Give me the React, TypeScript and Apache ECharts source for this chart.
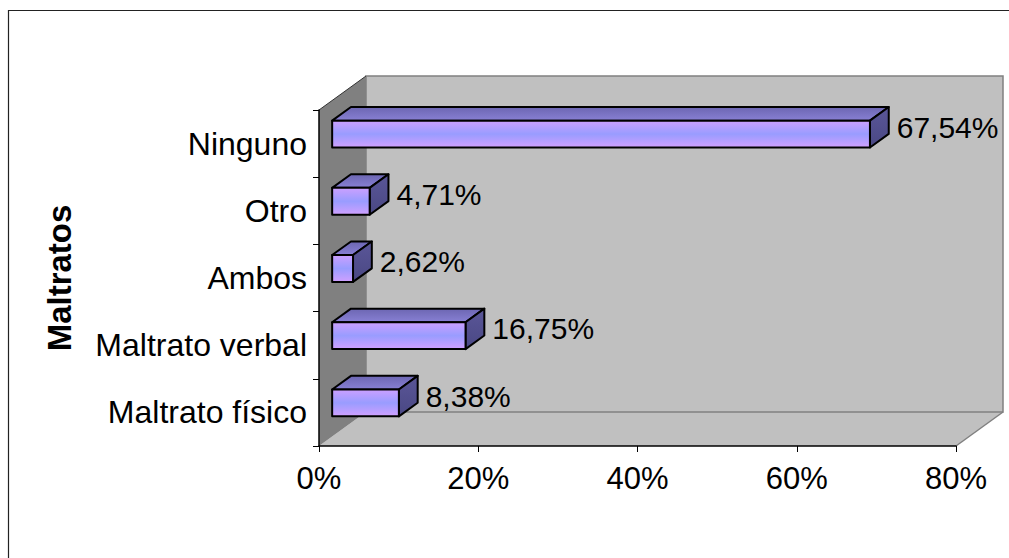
import React, { useEffect, useRef } from 'react';
import * as echarts from 'echarts';

const categories = ['Maltrato físico', 'Maltrato verbal', 'Ambos', 'Otro', 'Ninguno'];
const values = [8.38, 16.75, 2.62, 4.71, 67.54];
const xTickMin = 0;
const xTickMax = 80;
const xTickStep = 20;
const axisTitle = 'Maltratos';

const FONT = '"Liberation Sans", Arial, Helvetica, sans-serif';
const DEPTH_X = 47;
const DEPTH_Y = -34;
const BAR_FRONT = 0.28;
const BAR_DEPTH = 0.4;
const BAR_WIDTH = 0.4;

const fmt = (v: number) => v.toFixed(2).replace('.', ',') + '%';

export default function App() {
  const ref = useRef<HTMLDivElement>(null);
  useEffect(() => {
    const chart = echarts.init(ref.current!, null, { renderer: 'svg' });

    const wallsRender = (params: any, api: any) => {
      const cs = params.coordSys;
      const x = cs.x, y = cs.y, w = cs.width, h = cs.height;
      const dx = DEPTH_X, dy = DEPTH_Y;
      return {
        type: 'group',
        children: [
          {
            type: 'polygon',
            shape: { points: [[x, y + h], [x + w, y + h], [x + w + dx, y + h + dy], [x + dx, y + h + dy]] },
            style: { fill: '#C0C0C0', stroke: 'none' },
          },
          {
            type: 'rect',
            shape: { x: x + dx, y: y + dy, width: w, height: h },
            style: { fill: '#C0C0C0', stroke: '#808080', lineWidth: 1.5 },
          },
          {
            type: 'line',
            shape: { x1: x + w, y1: y + h, x2: x + w + dx, y2: y + h + dy },
            style: { stroke: '#808080', lineWidth: 1.5 },
          },
          {
            type: 'polygon',
            shape: { points: [[x, y], [x + dx, y + dy], [x + dx, y + h + dy], [x, y + h]] },
            style: { fill: '#808080', stroke: 'none' },
          },
          {
            type: 'line',
            shape: { x1: x, y1: y, x2: x + dx, y2: y + dy },
            style: { stroke: '#333333', lineWidth: 1 },
          },
        ],
      };
    };

    const barRender = (params: any, api: any) => {
      const v = api.value(0);
      const i = api.value(1);
      const p0 = api.coord([0, i]);
      const p1 = api.coord([v, i]);
      const band = api.size([0, 1])[1];
      const ox = DEPTH_X * BAR_FRONT, oy = DEPTH_Y * BAR_FRONT;
      const dx = DEPTH_X * BAR_DEPTH, dy = DEPTH_Y * BAR_DEPTH;
      const hh = (band * BAR_WIDTH) / 2;
      const xl = p0[0] + ox, xr = p1[0] + ox;
      const yc = p0[1] + oy, yt = yc - hh, yb = yc + hh;
      const stroke = { stroke: '#000000', lineWidth: 2, lineJoin: 'round' };
      return {
        type: 'group',
        children: [
          {
            type: 'polygon',
            shape: { points: [[xl, yt], [xl + dx, yt + dy], [xr + dx, yt + dy], [xr, yt]] },
            style: {
              fill: new echarts.graphic.LinearGradient(0, 0, 0, 1, [
                { offset: 0, color: '#6C66B2' },
                { offset: 1, color: '#8880D4' },
              ]),
              ...stroke,
            },
          },
          {
            type: 'polygon',
            shape: { points: [[xr, yt], [xr + dx, yt + dy], [xr + dx, yb + dy], [xr, yb]] },
            style: {
              fill: new echarts.graphic.LinearGradient(0, 0, 0, 1, [
                { offset: 0, color: '#5A5698' },
                { offset: 1, color: '#4A4884' },
              ]),
              ...stroke,
            },
          },
          {
            type: 'rect',
            shape: { x: xl, y: yt, width: xr - xl, height: yb - yt },
            style: {
              fill: new echarts.graphic.LinearGradient(0, 0, 0, 1, [
                { offset: 0, color: '#CCA0FF' },
                { offset: 0.5, color: '#999CFF' },
                { offset: 1, color: '#D0A0FF' },
              ]),
              ...stroke,
            },
          },
          {
            type: 'text',
            style: {
              text: fmt(v),
              x: xr + dx + 8,
              y: yc + dy / 2,
              align: 'left',
              verticalAlign: 'middle',
              fill: '#000000',
              font: `30px ${FONT}`,
            },
          },
        ],
      };
    };

    chart.setOption({
      animation: false,
      backgroundColor: '#FFFFFF',
      textStyle: { fontFamily: FONT },
      graphic: [
        {
          type: 'polyline',
          shape: { points: [[8.5, 600], [8.5, 10.5], [1100, 10.5]] },
          style: { fill: 'none', stroke: '#222222', lineWidth: 1.2 },
          z: 100,
          silent: true,
        },
      ],
      grid: { left: 319, right: 53, top: 110, bottom: 112, containLabel: false },
      xAxis: {
        type: 'value',
        min: xTickMin,
        max: xTickMax,
        interval: xTickStep,
        z: 10,
        axisLine: { show: true, lineStyle: { color: '#000000', width: 1.5 } },
        axisTick: { show: true, length: 6, lineStyle: { color: '#000000', width: 1 } },
        splitLine: { show: false },
        axisLabel: {
          formatter: '{value}%',
          fontSize: 31,
          color: '#000000',
          fontFamily: FONT,
          margin: 17,
        },
      },
      yAxis: {
        type: 'category',
        data: categories,
        z: 10,
        axisLine: { show: true, lineStyle: { color: '#000000', width: 1.5 } },
        axisTick: { show: true, length: 6, lineStyle: { color: '#000000', width: 1 } },
        splitLine: { show: false },
        axisLabel: { fontSize: 32, color: '#000000', fontFamily: FONT, margin: 12 },
        name: axisTitle,
        nameLocation: 'middle',
        nameRotate: 90,
        nameGap: 243,
        nameTextStyle: { fontSize: 33, fontWeight: 'bold', color: '#000000', fontFamily: FONT },
      },
      series: [
        {
          type: 'custom',
          renderItem: wallsRender,
          data: [[0, 0]],
          z: 1,
          silent: true,
        },
        {
          type: 'custom',
          renderItem: barRender,
          data: values.map((v, i) => [v, i]),
          encode: { x: 0, y: 1 },
          z: 3,
        },
      ],
    });

    return () => chart.dispose();
  }, []);
  return <div ref={ref} style={{ position: 'fixed', left: 0, top: 0, width: 1009, height: 558 }} />;
}
